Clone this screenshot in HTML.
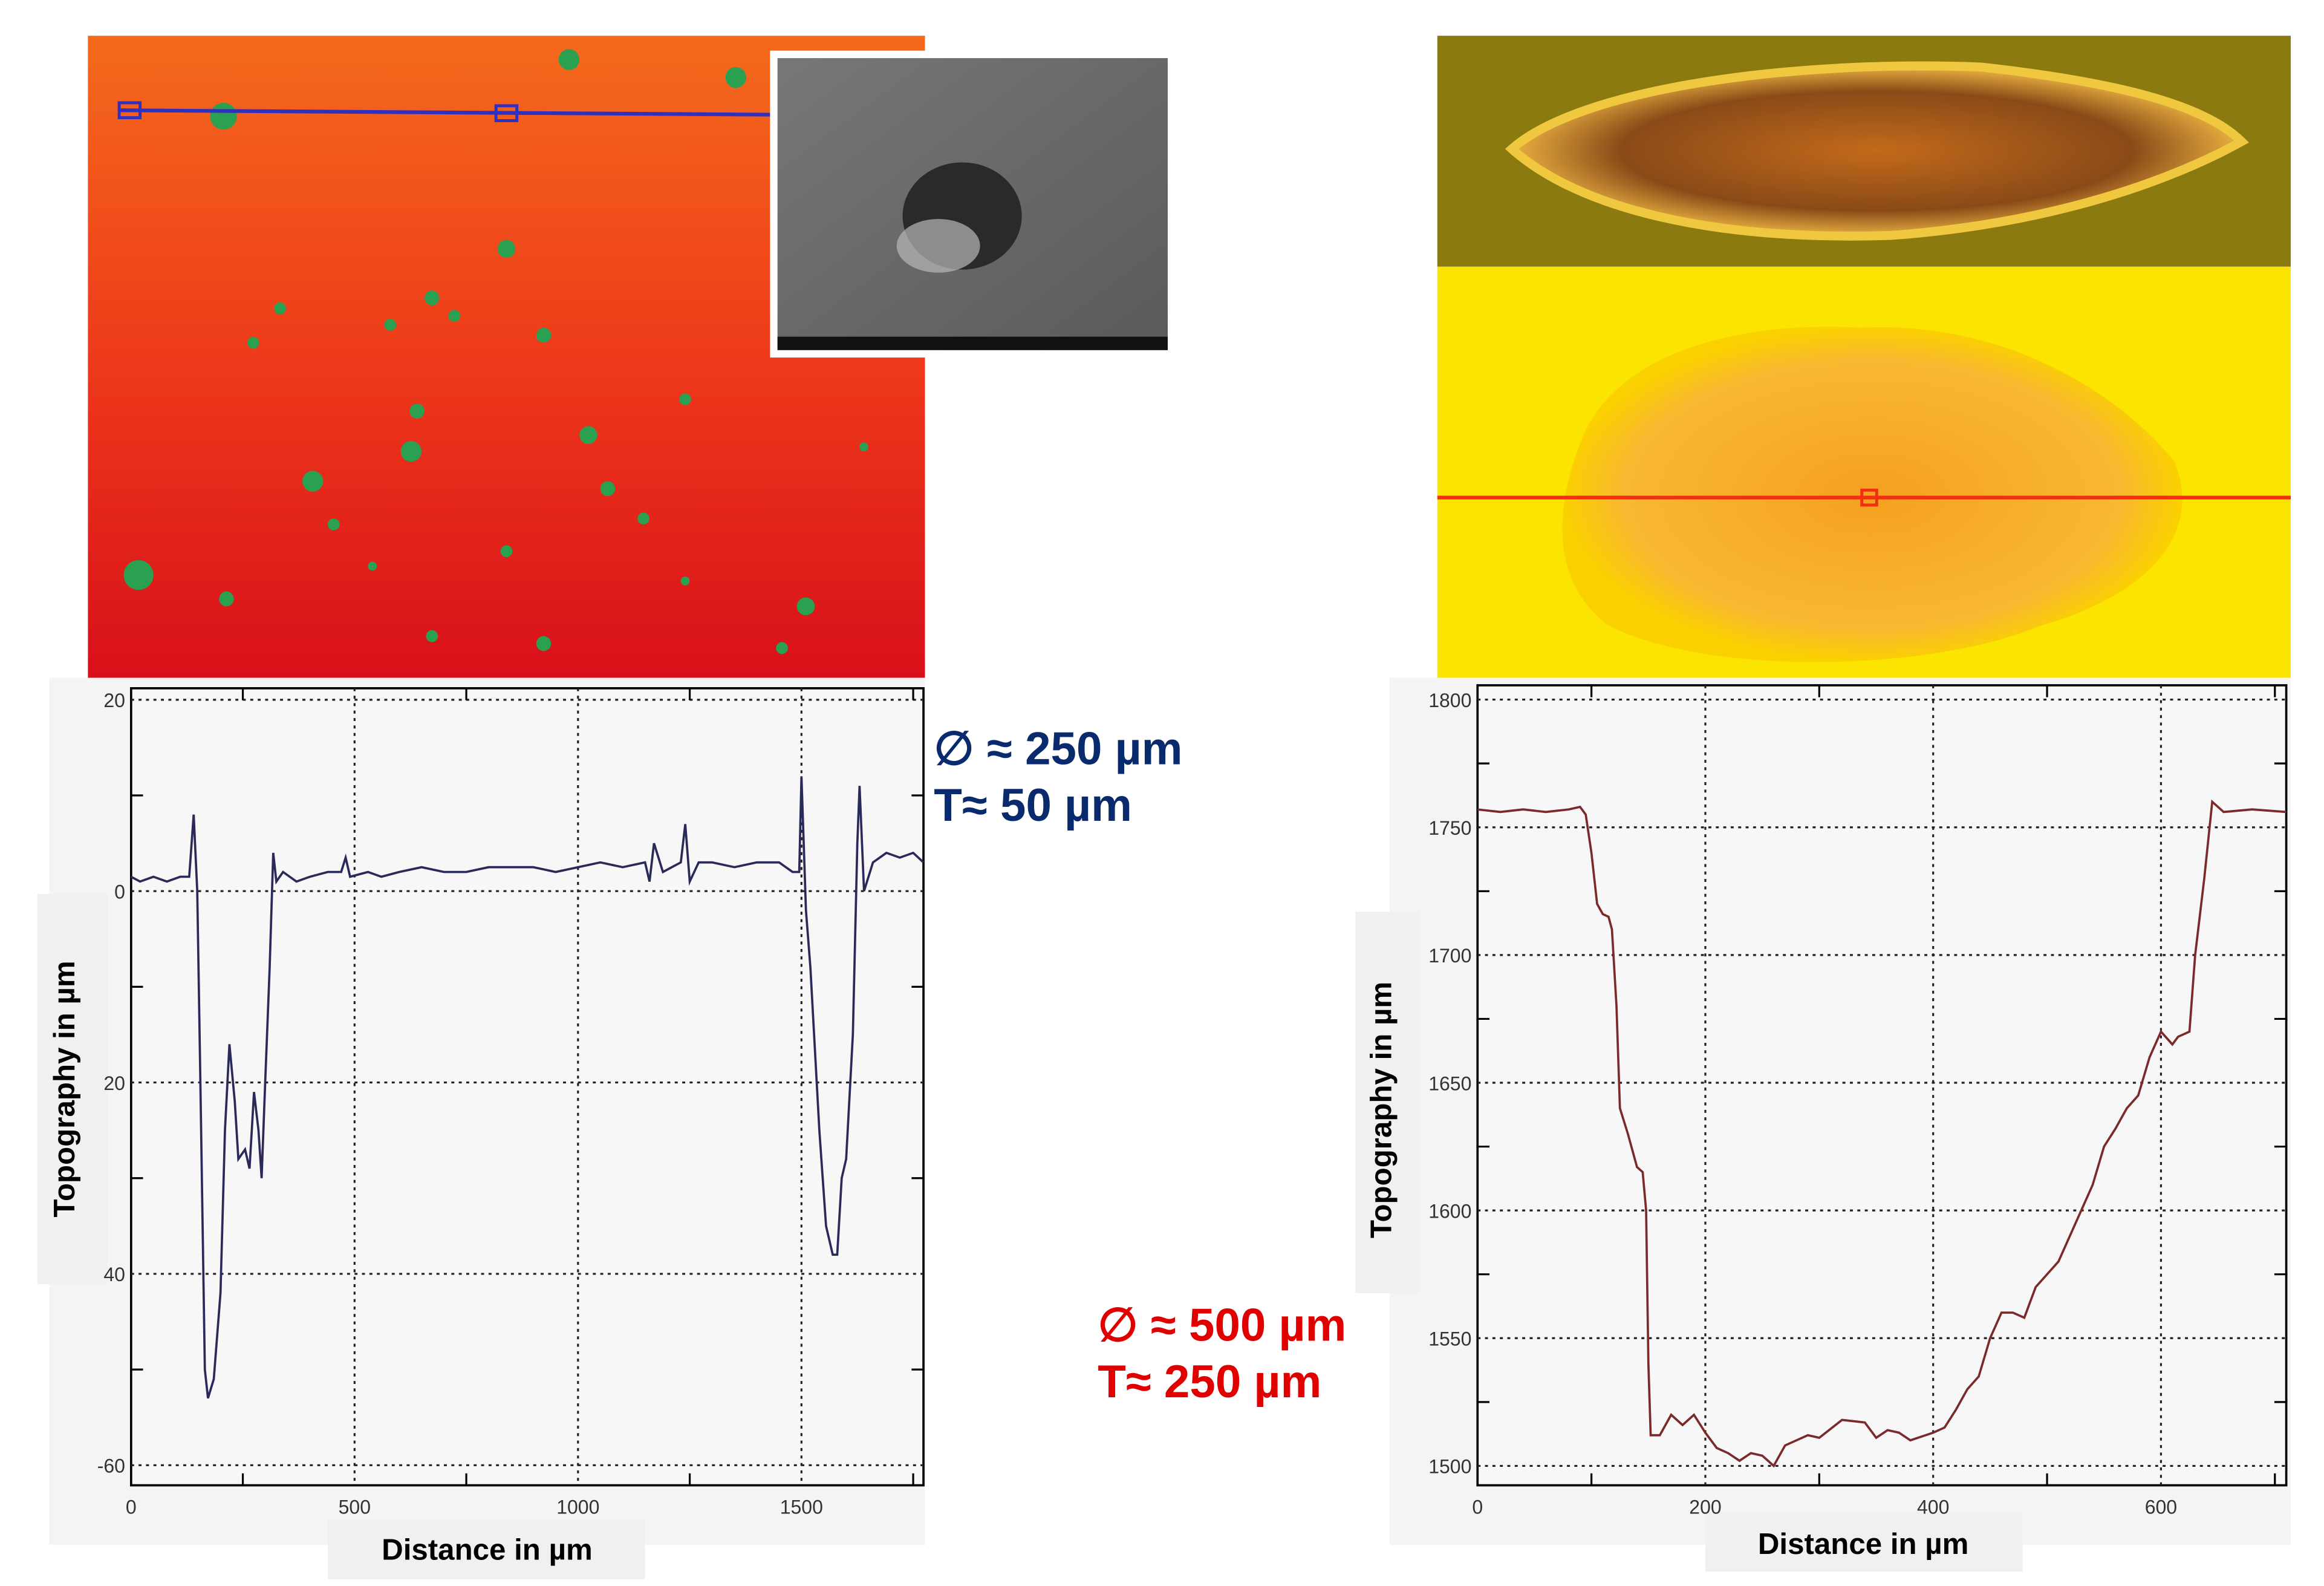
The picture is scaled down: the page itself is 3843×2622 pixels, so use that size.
<!DOCTYPE html>
<html><head><meta charset="utf-8"><style>
html,body{margin:0;padding:0;background:#fff}
svg{display:block}
text{font-family:"Liberation Sans",sans-serif}
</style></head><body>
<svg id="s" width="3843" height="2622" viewBox="0 0 1560.3 1064.6" xmlns="http://www.w3.org/2000/svg">
<defs>
<linearGradient id="gl" x1="0" y1="0" x2="0" y2="1"><stop offset="0" stop-color="#f46a1c"/><stop offset="0.5" stop-color="#ee3a1a"/><stop offset="1" stop-color="#d8101a"/></linearGradient>
<linearGradient id="gsem" x1="0" y1="0" x2="1" y2="1"><stop offset="0" stop-color="#777"/><stop offset="1" stop-color="#5a5a5a"/></linearGradient>
<radialGradient id="gpit" cx="0.5" cy="0.5" r="0.5"><stop offset="0" stop-color="#c36a1a"/><stop offset="0.7" stop-color="#8a4a18"/><stop offset="1" stop-color="#e8b040"/></radialGradient>
<radialGradient id="gblob" cx="0.5" cy="0.5" r="0.5"><stop offset="0" stop-color="#f6a020"/><stop offset="0.8" stop-color="#f8b830"/><stop offset="1" stop-color="#fbd000"/></radialGradient>
</defs>
<g>
<rect x="59" y="24" width="562" height="431" fill="url(#gl)"/>
<g id="dots" fill="#2aa050"></g>
<line x1="80" y1="74" x2="519" y2="77" stroke="#3030c0" stroke-width="2.5"/>
<rect x="80" y="69" width="14" height="10" fill="none" stroke="#3030c0" stroke-width="2"/>
<rect x="333" y="71" width="14" height="10" fill="none" stroke="#3030c0" stroke-width="2"/>
</g>
<g>
<rect x="517" y="34" width="270" height="206" fill="#fff"/>
<rect x="522" y="39" width="262" height="196" fill="url(#gsem)"/>
<ellipse cx="646" cy="145" rx="40" ry="36" fill="#2a2a2a"/>
<ellipse cx="630" cy="165" rx="28" ry="18" fill="#b8b8b8" opacity="0.7"/>
<rect x="522" y="226" width="262" height="9" fill="#111"/>
</g>
<g>
<rect x="965" y="24" width="573" height="155" fill="#8a7a10"/>
<path d="M1015,100 C1060,60 1200,40 1330,45 C1420,55 1480,70 1505,95 C1460,120 1380,150 1270,158 C1150,162 1060,140 1015,100Z" fill="url(#gpit)" stroke="#f0c840" stroke-width="6"/>
<rect x="965" y="179" width="573" height="276" fill="#fbe400"/>
<path d="M1060,300 C1080,240 1160,215 1250,220 C1340,215 1420,260 1460,310 C1480,360 1440,400 1370,420 C1300,450 1150,455 1080,420 C1040,390 1045,340 1060,300Z" fill="url(#gblob)"/>
<line x1="965" y1="334" x2="1538" y2="334" stroke="#f03010" stroke-width="2.5"/>
<rect x="1250" y="329" width="10" height="10" fill="none" stroke="#f03010" stroke-width="2"/>
</g>
<g>
<rect x="33" y="455" width="588" height="582" fill="#f4f4f4"/>
<rect x="25" y="600" width="47" height="262" fill="#f0f0f0"/>
<rect x="220" y="1020" width="213" height="40" fill="#f0f0f0"/>
<g id="lc"></g>
<text x="50" y="731" transform="rotate(-90 50 731)" text-anchor="middle" font-size="20" font-weight="bold" fill="#000">Topography  in µm</text>
<text x="327" y="1047" text-anchor="middle" font-size="20" font-weight="bold" fill="#000">Distance in µm</text>
</g>
<g>
<rect x="933" y="455" width="605" height="582" fill="#f4f4f4"/>
<rect x="910" y="612" width="43" height="256" fill="#f0f0f0"/>
<rect x="1145" y="1015" width="213" height="40" fill="#f0f0f0"/>
<g id="rc"></g>
<text x="934" y="745" transform="rotate(-90 934 745)" text-anchor="middle" font-size="20" font-weight="bold" fill="#000">Topography  in µm</text>
<text x="1251" y="1043" text-anchor="middle" font-size="20" font-weight="bold" fill="#000">Distance in µm</text>
</g>
<g font-size="31" font-weight="bold">
<text x="627" y="513" fill="#0a2a6e">∅ ≈ 250 µm</text>
<text x="627" y="551" fill="#0a2a6e">T≈ 50 µm</text>
<text x="737" y="900" fill="#e00000">∅ ≈ 500 µm</text>
<text x="737" y="938" fill="#e00000">T≈ 250 µm</text>
</g>
</svg>
<script>
// Left chart data
const leftX=[0,20,50,80,110,130,140,148,155,165,172,185,200,210,220,232,240,255,265,275,285,292,300,310,318,325,340,370,400,440,470,480,490,530,560,600,650,700,750,800,850,900,950,1000,1050,1100,1150,1160,1170,1190,1230,1240,1250,1270,1300,1350,1400,1450,1480,1495,1500,1510,1520,1540,1555,1570,1580,1590,1600,1615,1625,1630,1640,1660,1690,1720,1750,1773];
const leftY=[1.5,1,1.5,1,1.5,1.5,8,0,-20,-50,-53,-51,-42,-25,-16,-22,-28,-27,-29,-21,-25,-30,-20,-8,4,1,2,1,1.5,2,2,3.5,1.5,2,1.5,2,2.5,2,2,2.5,2.5,2.5,2,2.5,3,2.5,3,1,5,2,3,7,1,3,3,2.5,3,3,2,2,12,-2,-8,-25,-35,-38,-38,-30,-28,-15,5,11,0,3,4,3.5,4,3];
const leftYTicks=[20,0,-20,-40,-60];
const leftYLabels=["20","0","20","40","-60"];
const leftXTicks=[0,500,1000,1500];
const leftXLabels=["0","500","1000","1500"];
// Right chart data
const rightX=[0,20,40,60,80,90,95,100,105,110,115,118,122,125,132,140,145,148,150,152,160,170,180,190,200,210,220,230,240,250,260,270,290,300,320,340,350,360,370,380,400,410,420,430,440,450,460,470,480,490,510,530,540,550,560,570,580,590,600,610,615,625,630,638,645,655,680,710];
const rightY=[1757,1756,1757,1756,1757,1758,1755,1740,1720,1716,1715,1710,1680,1640,1630,1617,1615,1600,1540,1512,1512,1520,1516,1520,1513,1507,1505,1502,1505,1504,1500,1508,1512,1511,1518,1517,1511,1514,1513,1510,1513,1515,1522,1530,1535,1550,1560,1560,1558,1570,1580,1600,1610,1625,1632,1640,1645,1660,1670,1665,1668,1670,1700,1730,1760,1756,1757,1756];
const rightYTicks=[1800,1750,1700,1650,1600,1550,1500];
const rightXTicks=[0,200,400,600];

const NS="http://www.w3.org/2000/svg";
function mk(tag,attrs,parent){const e=document.createElementNS(NS,tag);for(const k in attrs)e.setAttribute(k,attrs[k]);parent.appendChild(e);return e;}

function chart(g,o){
  const sx=v=>o.x0+(v-o.xmin)/(o.xmax-o.xmin)*(o.x1-o.x0);
  const sy=v=>o.y1-(v-o.ymin)/(o.ymax-o.ymin)*(o.y1-o.y0);
  const plot=mk('rect',{x:o.x0,y:o.y0,width:o.x1-o.x0,height:o.y1-o.y0,fill:'#f7f7f7',stroke:'#000','stroke-width':1.5},g);
  
  
  o.yt.forEach((v,i)=>{
    const l=mk('line',{x1:o.x0,x2:o.x1,y1:sy(v),y2:sy(v),stroke:'#222','stroke-width':1.3,'stroke-dasharray':'2 3'},g);
    
    
    const t=mk('text',{x:o.x0-4,y:sy(v)+5,'text-anchor':'end','font-size':13,fill:'#333'},g);
    t.textContent=o.yl[i];
    
    
  });
  o.ymin2.forEach(v=>{
    mk('line',{x1:o.x0,x2:o.x0+8,y1:sy(v),y2:sy(v),stroke:'#000','stroke-width':1.3},g);
    mk('line',{x1:o.x1-8,x2:o.x1,y1:sy(v),y2:sy(v),stroke:'#000','stroke-width':1.3},g);
  });
  o.xt.forEach((v,i)=>{
    if(v!==o.xmin){
      const l=mk('line',{x1:sx(v),x2:sx(v),y1:o.y0,y2:o.y1,stroke:'#222','stroke-width':1.3,'stroke-dasharray':'2 3'},g);
      
      
    }
    const t=mk('text',{x:sx(v),y:o.y1+19,'text-anchor':'middle','font-size':13,fill:'#333'},g);
    t.textContent=o.xl[i];
    
    
  });
  o.xmin2.forEach(v=>{
    mk('line',{x1:sx(v),x2:sx(v),y1:o.y0,y2:o.y0+8,stroke:'#000','stroke-width':1.3},g);
    mk('line',{x1:sx(v),x2:sx(v),y1:o.y1-8,y2:o.y1,stroke:'#000','stroke-width':1.3},g);
  });
  const p=mk('path',{d:o.X.map((x,i)=>(i?'L':'M')+sx(x).toFixed(2)+','+sy(o.Y[i]).toFixed(2)).join(''),fill:'none',stroke:o.color,'stroke-width':1.5},g);
  
  
}
chart(document.getElementById('lc'),{name:'left-chart',x0:88,x1:620,y0:462,y1:997,xmin:0,xmax:1773,ymin:-62.1,ymax:21.2,
  yt:leftYTicks,yl:leftYLabels,xt:leftXTicks,xl:leftXLabels,ymin2:[10,-10,-30,-50],xmin2:[250,750,1250,1750],X:leftX,Y:leftY,color:'#2a2a5a'});
chart(document.getElementById('rc'),{name:'right-chart',x0:992,x1:1535,y0:460,y1:997,xmin:0,xmax:710,ymin:1492.4,ymax:1805.6,
  yt:rightYTicks,yl:rightYTicks.map(String),xt:rightXTicks,xl:rightXTicks.map(String),ymin2:[1775,1725,1675,1625,1575,1525],xmin2:[100,300,500,700],X:rightX,Y:rightY,color:'#7a2a2a'});

// decorative dots on left image
const dotsG=document.getElementById('dots');
[[150,78,9],[382,40,7],[494,52,7],[340,167,6],[290,200,5],[262,218,4],[365,225,5],[170,230,4],[305,212,4],[280,276,5],[395,292,6],[276,303,7],[210,323,7],[408,328,5],[432,348,4],[93,386,10],[152,402,5],[541,407,6],[290,427,4],[365,432,5],[525,435,4],[188,207,4],[460,268,4],[340,370,4],[224,352,4],[580,300,3],[460,390,3],[250,380,3]].forEach(d=>{
  const c=mk('circle',{cx:d[0],cy:d[1],r:d[2]},dotsG);
  
  
});
</script>
</body></html>
